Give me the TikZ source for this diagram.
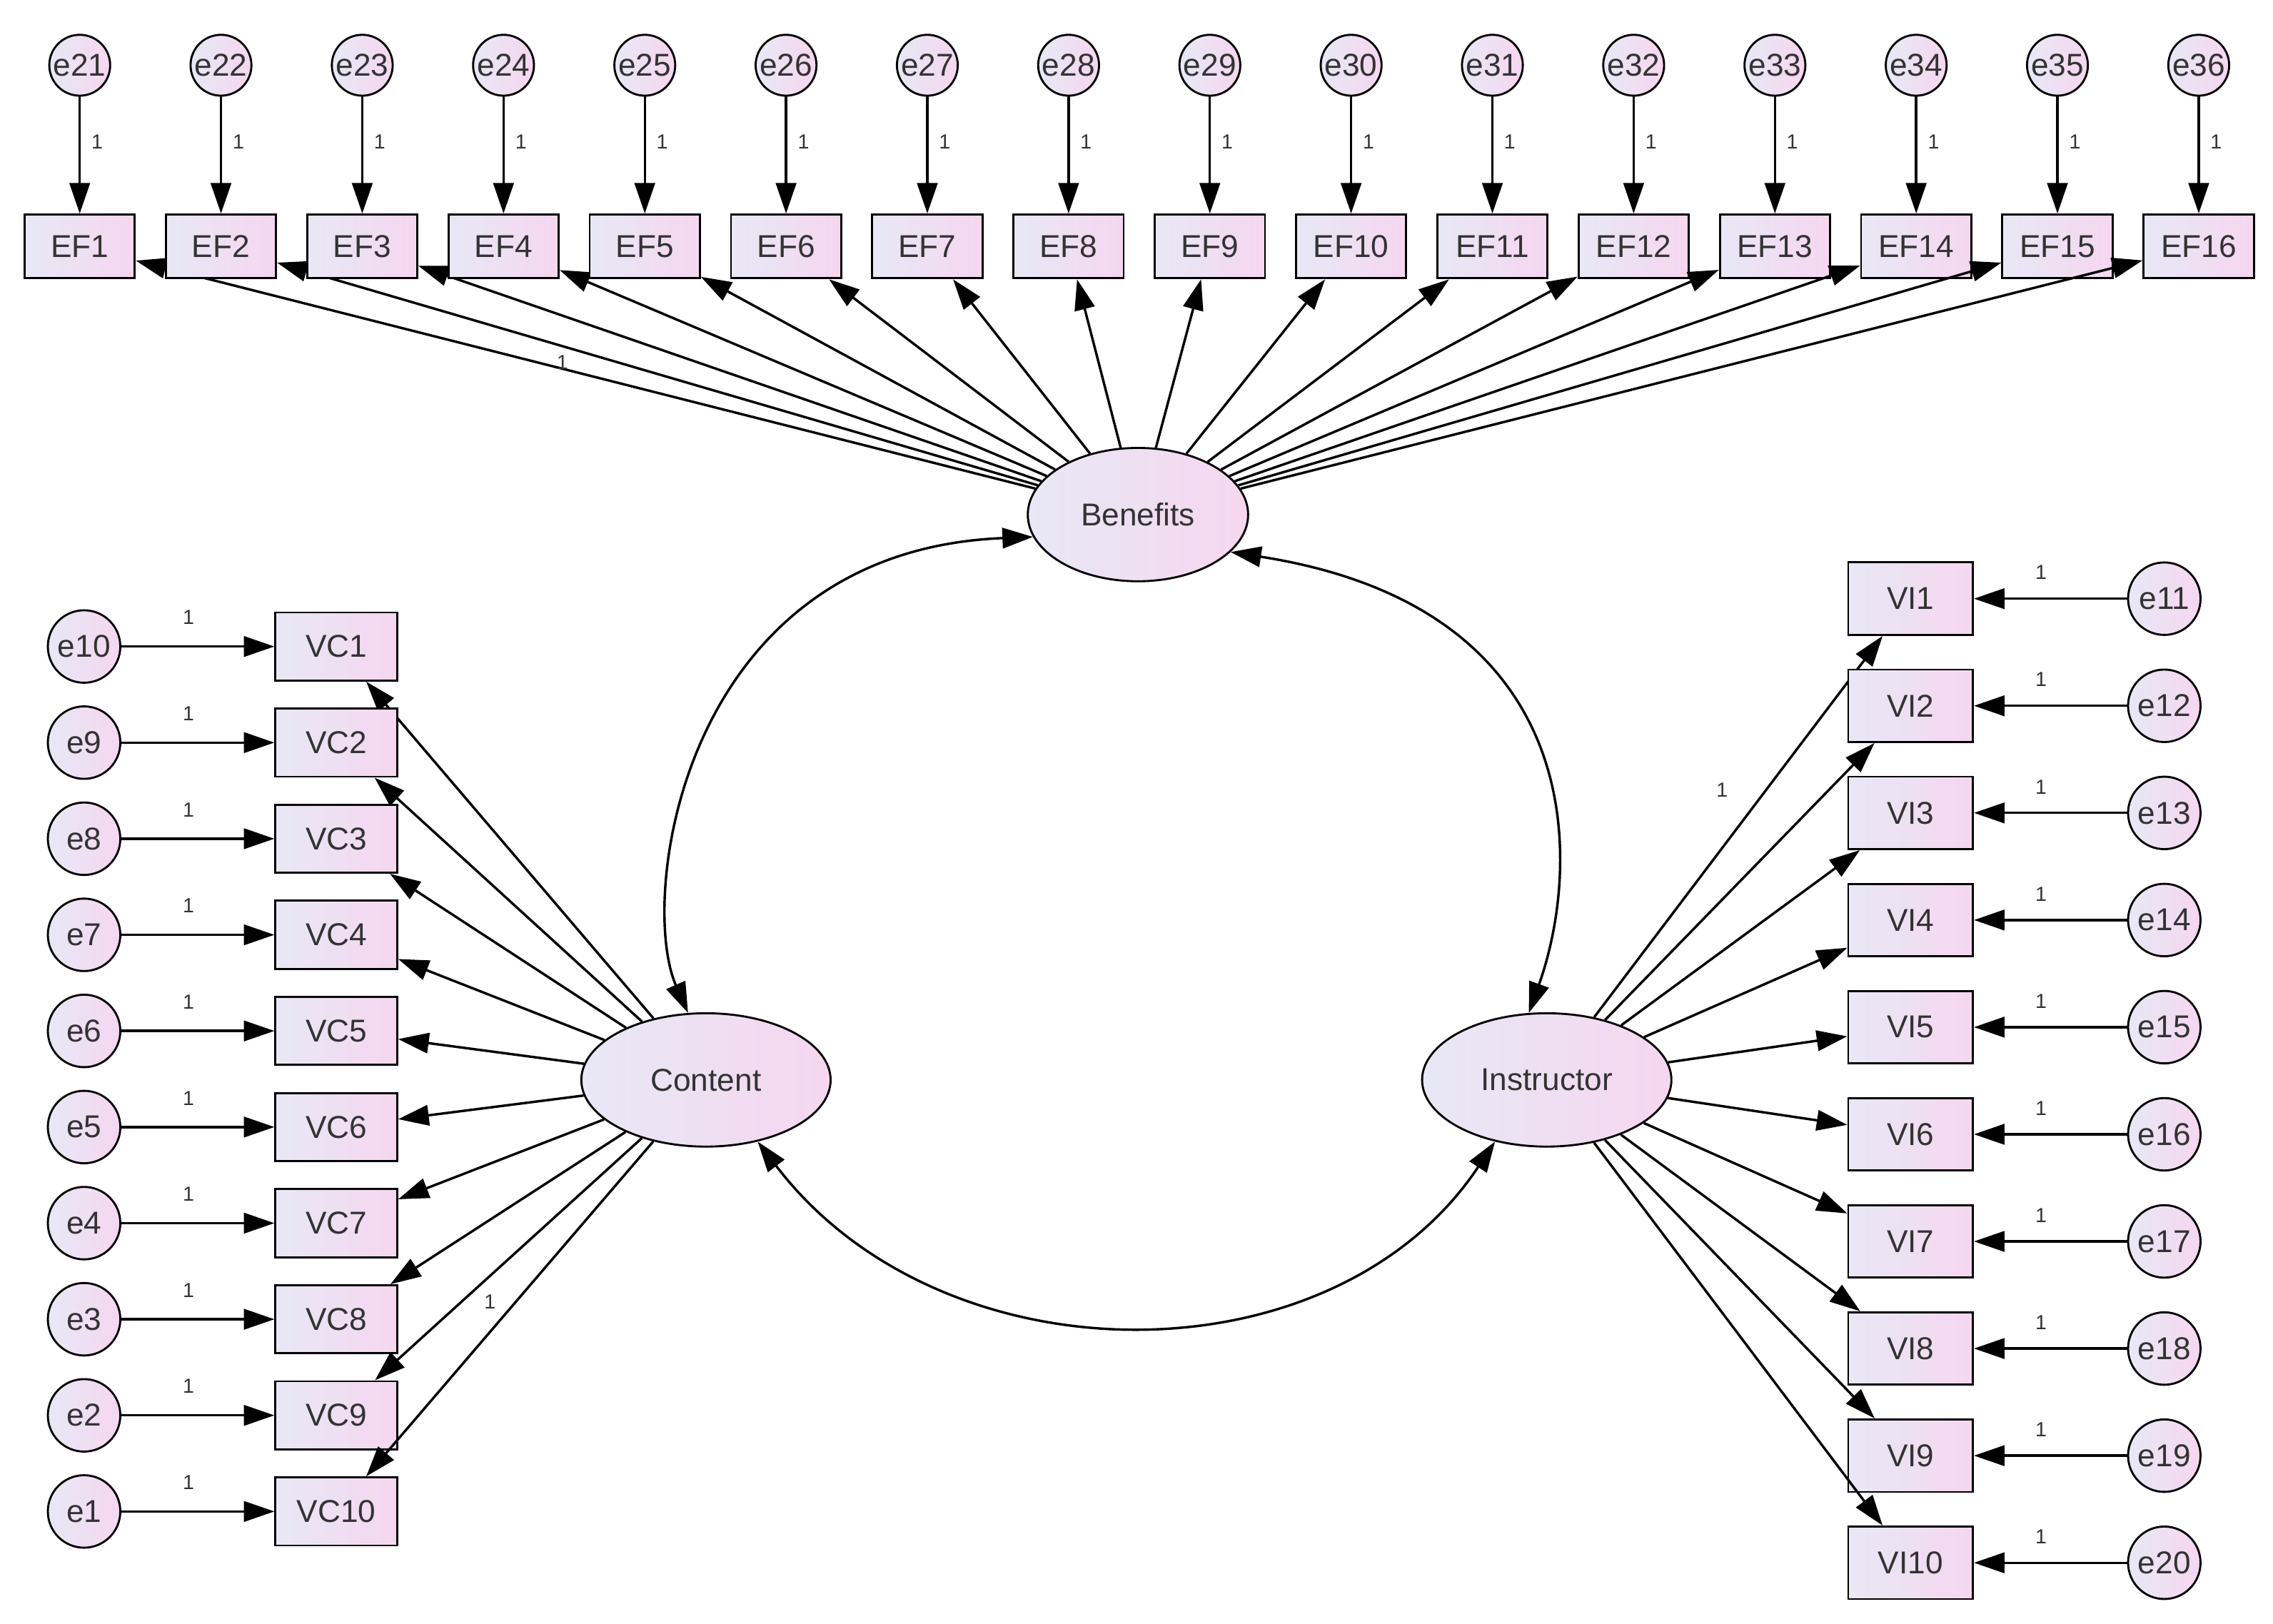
\documentclass[tikz,border=0pt]{standalone}
\usepackage{fontspec}
\setmainfont{Liberation Sans}
\usetikzlibrary{shapes.geometric,arrows.meta}
\definecolor{lavA}{RGB}{232,232,246}
\definecolor{pinkA}{RGB}{246,214,240}
\tikzset{
 every node/.style={font=\fontsize{31}{34}\selectfont,text=black!80},
 obs/.style={draw,line width=2pt,left color=lavA,right color=pinkA,minimum height=2.2cm,inner sep=0pt},
 err/.style={draw,circle,line width=2pt,left color=lavA,right color=pinkA,inner sep=0pt},
 lat/.style={draw,ellipse,line width=2pt,left color=lavA,right color=pinkA,inner sep=0pt},
 con/.style={line width=2.4pt,-{Triangle[length=30pt,width=20pt]}},
 cov/.style={line width=2.4pt,{Triangle[length=30pt,width=20pt]}-{Triangle[length=30pt,width=20pt]}},
 one/.style={font=\fontsize{20}{22}\selectfont}
}
\begin{document}
\begin{tikzpicture}[x=0.05cm,y=-0.05cm]
\useasboundingbox[fill=white] (0,0) rectangle (1568,1120);
\node[lat,minimum width=7.6cm,minimum height=4.6cm] (B) at (785,355) {Benefits};
\node[lat,minimum width=8.6cm,minimum height=4.6cm] (C) at (487,745) {Content};
\node[lat,minimum width=8.6cm,minimum height=4.6cm] (I) at (1067,745) {Instructor};
\foreach \i in {1,...,16}{
 \pgfmathsetmacro{\xx}{55+97.45*(\i-1)}
 \pgfmathtruncatemacro{\en}{20+\i}
 \node[err,minimum size=2.1cm] (t\i) at (\xx,45) {e\en};
 \node[obs,minimum width=3.8cm] (EF\i) at (\xx,170) {EF\i};
 \draw[con] (t\i) -- (EF\i);
 \node[one] at (\xx+12,98) {1};
 \draw[con] (B) -- (EF\i);
}
\node[one] at (388,250) {1};
\foreach \i in {1,...,10}{
 \pgfmathsetmacro{\yy}{446+66.3*(\i-1)}
 \pgfmathtruncatemacro{\en}{11-\i}
 \node[err,minimum size=2.5cm] (l\i) at (58,\yy) {e\en};
 \node[obs,minimum width=4.2cm,minimum height=2.35cm] (VC\i) at (232,\yy) {VC\i};
 \draw[con] (l\i) -- (VC\i);
 \node[one] at (130,\yy-20) {1};
 \draw[con] (C) -- (VC\i);
 \pgfmathsetmacro{\yr}{413+73.9*(\i-1)}
 \pgfmathtruncatemacro{\er}{10+\i}
 \node[err,minimum size=2.5cm] (r\i) at (1493,\yr) {e\er};
 \node[obs,minimum width=4.3cm,minimum height=2.5cm] (VI\i) at (1318,\yr) {VI\i};
 \draw[con] (r\i) -- (VI\i);
 \node[one] at (1408,\yr-18) {1};
 \draw[con] (I) -- (VI\i);
}
\node[one] at (338,898) {1};
\node[one] at (1188,545) {1};
\draw[cov] (B.192) .. controls (470,380) and (440,620) .. (C.105);
\draw[cov] (B.-22) .. controls (1100,420) and (1090,600) .. (I.105);
\draw[cov] (C.-50) .. controls (650,955) and (920,955) .. (I.-130);
\end{tikzpicture}
\end{document}
